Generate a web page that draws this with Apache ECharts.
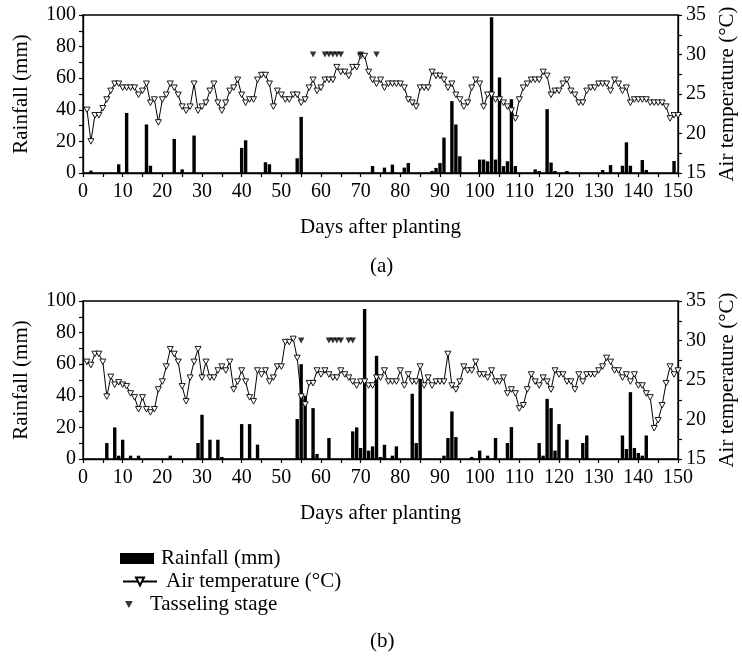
<!DOCTYPE html>
<html>
<head>
<meta charset="utf-8">
<script src="https://cdn.jsdelivr.net/npm/echarts@6/dist/echarts.min.js"></script>
<style>
html,body{margin:0;padding:0;background:#fff;}
#chart{width:742px;height:659px;}
</style>
</head>
<body>
<div id="chart"></div>
<script>
// ---------- DATA ----------
// x-axis ticks (days after planting)
const dayTicks = [0,10,20,30,40,50,60,70,80,90,100,110,120,130,140,150];

// Panel (a): daily air temperature, days 1..150
const tempA = [
23.0,19.0,22.3,22.3,23.2,24.3,25.4,26.3,26.3,25.8,
25.8,25.8,25.8,24.9,25.4,26.3,23.9,24.3,21.4,24.3,
24.9,26.3,25.8,24.9,23.4,22.9,23.4,26.3,22.9,23.4,
23.9,25.4,26.3,23.9,22.9,23.9,25.4,25.8,26.8,24.9,
23.9,24.3,24.3,26.8,27.4,27.4,26.3,23.4,25.4,24.9,
24.3,24.3,24.9,24.9,23.9,24.3,25.8,26.8,25.4,25.8,
26.8,26.8,26.8,28.4,27.8,27.8,27.3,28.4,28.4,29.8,
29.8,27.8,26.8,26.3,26.8,25.8,26.3,26.3,26.3,26.3,
25.8,24.3,23.9,23.4,25.8,25.8,25.8,27.8,27.3,27.3,
26.8,25.8,26.3,24.9,24.3,23.4,23.9,25.8,26.8,26.3,
23.4,24.9,24.9,24.3,24.3,23.9,23.4,22.9,21.9,24.3,
25.8,26.3,26.8,26.8,26.8,27.8,27.3,24.9,25.4,25.4,
26.3,26.8,25.4,24.9,23.9,23.9,25.4,25.8,25.8,26.3,
26.3,26.3,25.4,26.8,26.3,25.4,25.8,23.9,24.3,24.3,
24.3,24.3,23.9,23.9,23.9,23.9,23.4,21.9,22.3,22.3
];
// Panel (a): rainfall days and amounts (mm)
const rainDaysA = [2,9,11,16,17,23,25,28,40,41,46,47,54,55,73,76,78,81,82,88,89,90,91,93,94,95,100,101,102,103,104,105,106,107,108,109,114,115,117,118,119,122,131,133,136,137,138,141,142,149];
const rainA =     [1.5,5.5,38,30.7,4.6,21.6,2.3,23.7,15.9,20.7,6.8,5.5,9.3,35.5,4.4,3.4,5.3,3.4,6.3,1.3,3.2,6.3,22.4,45.5,30.7,10.6,8.5,8.5,7.4,98.5,8.5,60.5,4.4,7.4,46.7,4.4,2.3,1.3,40.4,6.6,1.3,1.3,1.9,5,4.6,19.4,4.6,8.2,1.9,7.6];
// Panel (a): tasseling stage days
const tasselDaysA = [58,61,62,63,64,65,70,74];

// Panel (b): daily air temperature, days 1..150
const tempB = [
27.3,26.9,28.3,28.3,27.3,22.9,25.4,24.4,24.7,24.4,
24.2,23.3,22.8,21.3,22.8,21.3,20.9,21.3,23.8,24.8,
26.7,28.9,28.3,27.3,24.2,22.3,25.3,27.3,28.9,25.3,
27.3,25.3,25.3,26.2,26.7,26.2,27.3,23.8,24.8,26.2,
24.8,22.8,22.3,26.2,25.7,26.2,24.8,25.3,26.7,26.7,
29.8,29.8,30.2,27.8,22.9,21.9,24.6,24.6,26.2,25.7,
26.2,25.7,25.3,25.3,26.2,25.7,25.3,24.8,24.3,24.8,
24.8,24.3,24.3,25.3,25.3,26.2,24.8,24.8,24.8,26.2,
24.3,25.7,24.8,24.8,26.7,24.3,25.3,24.3,24.8,24.8,
24.8,28.3,24.3,23.8,24.8,26.7,26.2,26.2,27.3,25.7,
25.7,25.3,26.2,24.8,24.8,25.3,23.3,23.8,23.3,21.4,
21.8,23.8,25.7,24.8,24.3,25.3,24.8,23.8,26.2,25.7,
25.7,24.8,24.8,23.8,25.7,24.8,25.7,25.7,25.7,26.2,
26.7,27.8,27.3,26.2,26.2,25.3,25.7,24.8,25.7,24.3,
24.3,23.3,22.8,18.9,19.9,21.8,24.6,26.7,25.7,26.2
];
// Panel (b): rainfall days and amounts (mm)
const rainDaysB = [6,8,9,10,12,14,22,29,30,32,34,35,40,42,44,54,55,56,58,59,62,68,69,70,71,72,73,74,75,76,78,79,83,84,85,91,92,93,94,98,100,102,104,107,108,115,116,117,118,119,120,122,126,127,136,137,138,139,140,141,142];
const rainB =     [10.1,20,2.1,12.2,2.1,2.1,2.1,10.1,28,12.2,12.2,1.3,22.1,22.1,9.1,25.3,60,40,32.2,3.2,13.3,17.5,20,7,95,5.3,8,65.3,1.3,9,2.1,8,41.3,10.1,50.7,2.1,13.3,30.1,13.9,1.3,5.3,2.1,13.3,10.1,20.2,10.1,2.1,38.1,32.2,5.3,22.1,12.2,10.1,14.9,14.9,6.3,42.3,7,3.8,2.1,14.9];
// Panel (b): tasseling stage days
const tasselDaysB = [55,62,63,64,65,67,68];
const tasselLevel = 30; // drawn at 30 °C on the temperature axis

// ---------- CHART ----------
const FONT = '"Liberation Serif", "DejaVu Serif", serif';
const DOWN_TRI = 'path://M0,0 L10,0 L5,9 Z';
const black = '#000';
const TICK_FS = 20, NAME_FS = 21;

function pairs(days, vals){ return days.map((d,i)=>[d, vals[i]]); }
function daily(vals){ return vals.map((v,i)=>[i+1, v]); }
function tassel(days){ return days.map(d=>[d, tasselLevel]); }

const axisLineStyle = {lineStyle:{color:black, width:1.3}};
const tickStyle = {show:true, inside:false, length:4, lineStyle:{color:black, width:1.2}};
const minorTickStyle = {show:true, splitNumber:2, length:4, lineStyle:{color:black, width:1.2}};
const labelStyle = {color:black, fontFamily:FONT, fontSize:TICK_FS};
const nameStyle = {color:black, fontFamily:FONT, fontSize:NAME_FS};

function xAx(gi){
  return {
    type:'value', gridIndex:gi, min:0, max:150, interval:10,
    name:'Days after planting', nameLocation:'middle', nameGap:44,
    nameTextStyle:nameStyle,
    axisLine:axisLineStyle, axisTick:tickStyle, minorTick:minorTickStyle,
    axisLabel:Object.assign({margin:9}, labelStyle),
    splitLine:{show:false}
  };
}
function yRain(gi){
  return {
    type:'value', gridIndex:gi, min:0, max:100, interval:20, position:'left',
    name:'Rainfall (mm)', nameLocation:'middle', nameGap:51, nameRotate:90,
    nameTextStyle:nameStyle,
    axisLine:Object.assign({show:true}, axisLineStyle), axisTick:tickStyle, minorTick:minorTickStyle,
    axisLabel:Object.assign({margin:7}, labelStyle),
    splitLine:{show:false}
  };
}
function yTemp(gi){
  return {
    type:'value', gridIndex:gi, min:15, max:35, interval:5, position:'right',
    name:'Air temperature (\u00B0C)', nameLocation:'middle', nameGap:30, nameRotate:90,
    nameTextStyle:nameStyle,
    axisLine:Object.assign({show:true}, axisLineStyle), axisTick:tickStyle, minorTick:minorTickStyle,
    axisLabel:Object.assign({margin:8}, labelStyle),
    splitLine:{show:false}
  };
}

function barSeries(xi, yi, data){
  return {name:'Rainfall (mm)', type:'bar', xAxisIndex:xi, yAxisIndex:yi, data:data,
    barWidth:3.4, itemStyle:{color:black}, animation:false, z:2};
}
function lineSeries(xi, yi, data){
  return {name:'Air temperature (\u00B0C)', type:'line', xAxisIndex:xi, yAxisIndex:yi, data:data,
    symbol:DOWN_TRI, symbolSize:[6,5.5], showAllSymbol:true,
    itemStyle:{color:'#fff', borderColor:black, borderWidth:0.9},
    lineStyle:{color:black, width:1}, animation:false, z:3, clip:false};
}
function tasselSeries(xi, yi, data){
  return {name:'Tasseling stage', type:'scatter', xAxisIndex:xi, yAxisIndex:yi, data:data,
    symbol:DOWN_TRI, symbolSize:[6.5,6], itemStyle:{color:black}, animation:false, z:4};
}

const chart = echarts.init(document.getElementById('chart'), null, {renderer:'canvas'});
const legendText = {color:black, fontFamily:FONT, fontSize:NAME_FS};
const gridBase = {left:83, width:595, height:158, show:true, borderColor:black, borderWidth:1.3,
  backgroundColor:'transparent', containLabel:false, outerBoundsMode:'none'};
chart.setOption({
  backgroundColor:'#fff',
  animation:false,
  grid:[
    Object.assign({top:15}, gridBase),
    Object.assign({top:301}, gridBase)
  ],
  xAxis:[xAx(0), xAx(1)],
  yAxis:[yRain(0), yTemp(0), yRain(1), yTemp(1)],
  legend:[
    {data:[{name:'Rainfall (mm)', icon:'rect'}], left:115, top:543, itemWidth:34, itemHeight:11, itemGap:0,
     textStyle:Object.assign({padding:[0,0,0,2]}, legendText), selectedMode:false},
    {data:['Air temperature (\u00B0C)'], left:117, top:566, itemWidth:34, itemHeight:10, itemGap:0,
     textStyle:Object.assign({padding:[0,0,0,4]}, legendText), selectedMode:false},
    {data:[{name:'Tasseling stage', icon:DOWN_TRI}], left:120, top:589, itemWidth:8, itemHeight:7, itemGap:0,
     textStyle:Object.assign({padding:[0,0,0,12]}, legendText), selectedMode:false}
  ],
  graphic:[
    {type:'text', left:370, top:256, style:{text:'(a)', fill:black, font:NAME_FS + 'px ' + FONT}},
    {type:'text', left:370, top:631, style:{text:'(b)', fill:black, font:NAME_FS + 'px ' + FONT}}
  ],
  series:[
    barSeries(0, 0, pairs(rainDaysA, rainA)),
    lineSeries(0, 1, daily(tempA)),
    tasselSeries(0, 1, tassel(tasselDaysA)),
    barSeries(1, 2, pairs(rainDaysB, rainB)),
    lineSeries(1, 3, daily(tempB)),
    tasselSeries(1, 3, tassel(tasselDaysB))
  ]
});
</script>
</body>
</html>
